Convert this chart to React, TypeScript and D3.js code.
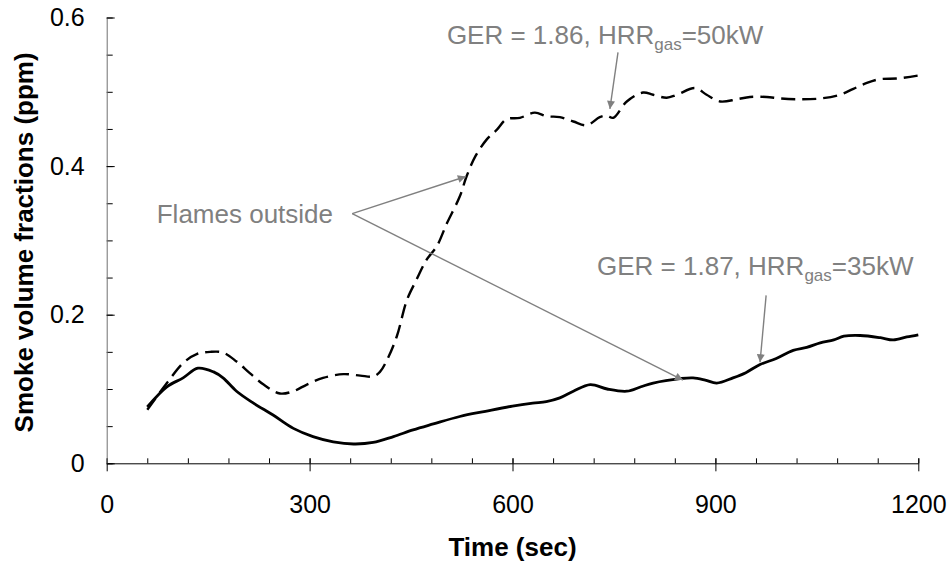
import React, { useEffect, useRef } from "react";
import * as d3 from "d3";

// time (sec) and smoke volume fraction (ppm)
const timeLow = [60, 89, 113, 135, 158, 172, 192, 217, 246, 276, 305, 335, 365, 394, 424, 453, 483, 522, 560, 600, 630, 650, 670, 690, 715, 740, 769, 790, 808, 848, 867, 885, 902, 926, 945, 966, 990, 1015, 1035, 1055, 1075, 1090, 1114, 1144, 1163, 1183, 1200];
const smokeLow = [0.076, 0.103, 0.115, 0.128, 0.123, 0.115, 0.097, 0.081, 0.065, 0.047, 0.036, 0.029, 0.026, 0.028, 0.036, 0.045, 0.053, 0.063, 0.07, 0.077, 0.081, 0.083, 0.088, 0.097, 0.106, 0.1, 0.097, 0.103, 0.108, 0.114, 0.115, 0.112, 0.108, 0.115, 0.122, 0.133, 0.141, 0.152, 0.156, 0.162, 0.166, 0.171, 0.172, 0.169, 0.166, 0.17, 0.173];

const timeHigh = [60, 89, 113, 133, 153, 172, 192, 212, 232, 256, 276, 296, 320, 350, 375, 394, 404, 416, 429, 444, 458, 473, 488, 503, 522, 532, 545, 562, 577, 591, 611, 633, 651, 670, 690, 710, 729, 739, 749, 769, 793, 808, 828, 843, 870, 887, 907, 932, 951, 976, 996, 1025, 1055, 1084, 1104, 1124, 1143, 1170, 1200];
const smokeHigh = [0.072, 0.108, 0.135, 0.147, 0.15, 0.149, 0.137, 0.121, 0.106, 0.094, 0.097, 0.106, 0.115, 0.12, 0.118, 0.117, 0.123, 0.142, 0.171, 0.22, 0.247, 0.274, 0.292, 0.323, 0.359, 0.386, 0.413, 0.436, 0.449, 0.463, 0.465, 0.472, 0.467, 0.466, 0.46, 0.455, 0.466, 0.468, 0.465, 0.487, 0.499, 0.496, 0.492, 0.496, 0.505, 0.496, 0.487, 0.49, 0.493, 0.493, 0.491, 0.49, 0.491, 0.496, 0.504, 0.512, 0.517, 0.518, 0.522];

const xTicks = [0, 300, 600, 900, 1200];
const xTickLabels = ["0", "300", "600", "900", "1200"];
const yTicks = [0, 0.2, 0.4, 0.6];
const yTickLabels = ["0", "0.2", "0.4", "0.6"];

const FONT = "'Liberation Sans', Arial, Helvetica, sans-serif";
const GREY = "#808080";

function App() {
  const ref = useRef<SVGSVGElement>(null);

  useEffect(() => {
    drawChart();
  }, []);

  const drawChart = () => {
    const svg = d3.select(ref.current);
    svg.selectAll("*").remove();

    const x = d3.scaleLinear().domain([0, 1200]).range([106.7, 918.3]);
    const y = d3.scaleLinear().domain([0, 0.6]).range([463.3, 17.5]);

    // arrowhead
    svg.append("defs")
      .append("marker")
      .attr("id", "arrowHead")
      .attr("viewBox", "0 0 10 10")
      .attr("refX", 10)
      .attr("refY", 5)
      .attr("markerUnits", "userSpaceOnUse")
      .attr("markerWidth", 9)
      .attr("markerHeight", 8)
      .attr("orient", "auto")
      .append("path")
      .attr("d", "M0,0 L10,5 L0,10 z")
      .attr("fill", GREY);

    // x axis: minor ticks pointing up, major ticks crossing
    const xMinor = d3.range(0, 1201, 60);
    svg.append("g")
      .attr("transform", `translate(0,${y(0)})`)
      .call(d3.axisTop(x).tickValues(xMinor).tickSize(5).tickFormat(() => ""))
      .call(g => g.select(".domain").remove())
      .selectAll("line").attr("stroke", "#000");

    const gx = svg.append("g")
      .attr("transform", `translate(0,${y(0)})`)
      .call(d3.axisBottom(x).tickValues(xTicks).tickSizeInner(8).tickSizeOuter(0).tickPadding(24)
        .tickFormat((d, i) => xTickLabels[i]));
    gx.select(".domain").attr("stroke", "#000");
    gx.selectAll(".tick line").attr("y1", -5).attr("stroke", "#000");
    gx.selectAll(".tick text")
      .attr("font-family", FONT)
      .attr("font-size", 25)
      .attr("fill", "#000")
      .attr("dy", "0.71em");

    // y axis: minor ticks inside, major ticks crossing
    const yMinor = d3.range(0, 0.601, 0.05);
    svg.append("g")
      .attr("transform", `translate(${x(0)},0)`)
      .call(d3.axisRight(y).tickValues(yMinor).tickSize(6).tickFormat(() => ""))
      .call(g => g.select(".domain").remove())
      .selectAll("line").attr("stroke", "#000");

    const gy = svg.append("g")
      .attr("transform", `translate(${x(0)},0)`)
      .call(d3.axisLeft(y).tickValues(yTicks).tickSizeInner(8).tickSizeOuter(0).tickPadding(14)
        .tickFormat((d, i) => yTickLabels[i]));
    gy.select(".domain").attr("stroke", "#707070");
    gy.selectAll(".tick line").attr("x2", 8).attr("stroke", "#000");
    gy.selectAll(".tick text")
      .attr("font-family", FONT)
      .attr("font-size", 25)
      .attr("fill", "#000");

    // axis titles
    svg.append("text")
      .attr("x", (x(0) + x(1200)) / 2)
      .attr("y", 556)
      .attr("text-anchor", "middle")
      .attr("font-family", FONT)
      .attr("font-size", 26)
      .attr("font-weight", "bold")
      .text("Time (sec)");

    svg.append("text")
      .attr("transform", `translate(33,${(y(0) + y(0.6)) / 2 + 2}) rotate(-90)`)
      .attr("text-anchor", "middle")
      .attr("font-family", FONT)
      .attr("font-size", 26)
      .attr("font-weight", "bold")
      .text("Smoke volume fractions (ppm)");

    // series
    const line = d3.line<[number, number]>()
      .x(d => x(d[0]))
      .y(d => y(d[1]))
      .curve(d3.curveCatmullRom.alpha(0.5));

    const high = timeHigh.map((t, i) => [t, smokeHigh[i]] as [number, number]);
    const low = timeLow.map((t, i) => [t, smokeLow[i]] as [number, number]);

    svg.append("path")
      .attr("d", line(high))
      .attr("fill", "none")
      .attr("stroke", "#000")
      .attr("stroke-width", 2.4)
      .attr("stroke-dasharray", "14,7");

    svg.append("path")
      .attr("d", line(low))
      .attr("fill", "none")
      .attr("stroke", "#000")
      .attr("stroke-width", 2.8);

    // annotations
    const arrows = [
      { from: [363, 0.336], to: [531, 0.386] },
      { from: [363, 0.336], to: [852, 0.112] },
      { from: [756, 0.553], to: [744, 0.477] },
      { from: [975, 0.226], to: [966, 0.136] },
    ];
    svg.selectAll(".arrow")
      .data(arrows)
      .enter()
      .append("line")
      .attr("x1", d => x(d.from[0]))
      .attr("y1", d => y(d.from[1]))
      .attr("x2", d => x(d.to[0]))
      .attr("y2", d => y(d.to[1]))
      .attr("stroke", GREY)
      .attr("stroke-width", 1.4)
      .attr("marker-end", "url(#arrowHead)");

    svg.append("text")
      .attr("x", x(74))
      .attr("y", y(0.324))
      .attr("font-family", FONT)
      .attr("font-size", 26)
      .attr("fill", GREY)
      .text("Flames outside");

    const labels = [
      { t: 503, v: 0.564, ger: "1.86", hrr: "50kW" },
      { t: 725, v: 0.254, ger: "1.87", hrr: "35kW" },
    ];
    labels.forEach(l => {
      const txt = svg.append("text")
        .attr("x", x(l.t))
        .attr("y", y(l.v))
        .attr("font-family", FONT)
        .attr("font-size", 26)
        .attr("fill", GREY);
      txt.append("tspan").text(`GER = ${l.ger}, HRR`);
      txt.append("tspan").attr("font-size", 17).attr("dy", 6).text("gas");
      txt.append("tspan").attr("dy", -6).text(`=${l.hrr}`);
    });
  };

  return (
    <svg
      ref={ref}
      width={952}
      height={563}
      style={{ position: "absolute", left: 0, top: 0, background: "#fff" }}
    />
  );
}

export default App;
